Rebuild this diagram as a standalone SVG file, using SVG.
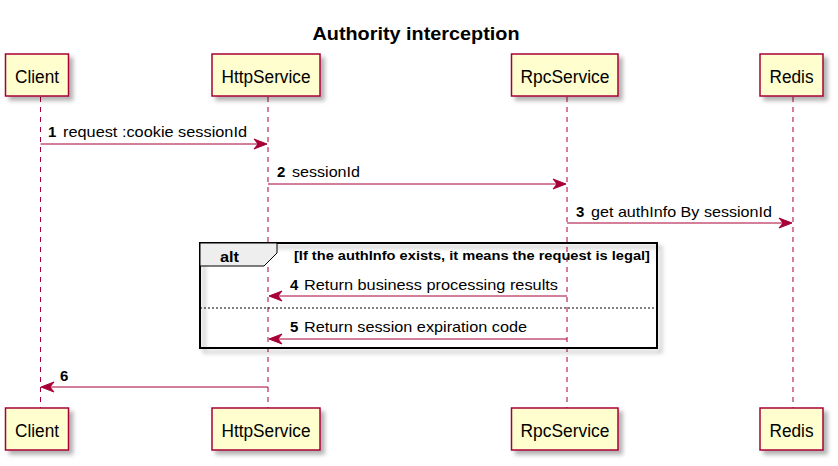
<svg xmlns="http://www.w3.org/2000/svg" width="838" height="466" viewBox="0 0 838 466">
<defs>
<filter id="sh" x="-20%" y="-20%" width="150%" height="160%">
<feDropShadow dx="4" dy="4" stdDeviation="2" flood-color="#000" flood-opacity="0.3"/>
</filter>
<style>
.p{fill:#FEFECE;stroke:#A80036;stroke-width:1.5;filter:url(#sh)}
.pt{font-family:"Liberation Sans",Arial,sans-serif;font-size:18px;fill:#000;text-anchor:middle}
.ll{stroke:#A80036;stroke-width:1;stroke-dasharray:5,5;fill:none}
.m{stroke:#A80036;stroke-width:1;fill:none}
.ah{fill:#A80036;stroke:#A80036;stroke-width:1}
.t{font-family:"Liberation Sans",Arial,sans-serif;font-size:15px;fill:#000}
.n{font-family:"Liberation Sans",Arial,sans-serif;font-size:15px;font-weight:bold;fill:#000}
</style>
</defs>
<rect width="838" height="466" fill="#fff"/>
<text x="416" y="40" font-family="Liberation Sans,Arial,sans-serif" font-size="19" font-weight="bold" text-anchor="middle" textLength="207" lengthAdjust="spacingAndGlyphs">Authority interception</text>
<g id="lifelines">
<line class="ll" x1="40.5" y1="97" x2="40.5" y2="408"/>
<line class="ll" x1="268" y1="97" x2="268" y2="408"/>
<line class="ll" x1="567" y1="97" x2="567" y2="408"/>
<line class="ll" x1="793" y1="97" x2="793" y2="408"/>
</g>
<g id="alt">
<rect x="200" y="243" width="457" height="105" fill="none" stroke="#000" stroke-width="2" filter="url(#sh)"/>
<rect x="200" y="243" width="457" height="105" fill="none" stroke="#000" stroke-width="2"/>
<polygon points="200,243 277,243 277,253 264,266 200,266" fill="#EEEEEE" stroke="#000" stroke-width="1"/>
<text x="220" y="262" font-family="Liberation Sans,Arial,sans-serif" font-size="14.5" font-weight="bold" textLength="19" lengthAdjust="spacingAndGlyphs">alt</text>
<text x="294" y="260" font-family="Liberation Sans,Arial,sans-serif" font-size="12.5" font-weight="bold" textLength="356" lengthAdjust="spacingAndGlyphs">[If the authInfo exists, it means the request is legal]</text>
<line x1="200" y1="308" x2="657" y2="308" stroke="#000" stroke-width="1" stroke-dasharray="2,2"/>
</g>
<g id="Client">
<rect class="p" x="5.5" y="54" width="63" height="42"/>
<text class="pt" x="37" y="83" textLength="44" lengthAdjust="spacingAndGlyphs">Client</text>
<rect class="p" x="5.5" y="408" width="63" height="42"/>
<text class="pt" x="37" y="437" textLength="44" lengthAdjust="spacingAndGlyphs">Client</text>
</g>
<g id="HttpService">
<rect class="p" x="212" y="54" width="108" height="42"/>
<text class="pt" x="266" y="83" textLength="89" lengthAdjust="spacingAndGlyphs">HttpService</text>
<rect class="p" x="212" y="408" width="108" height="42"/>
<text class="pt" x="266" y="437" textLength="89" lengthAdjust="spacingAndGlyphs">HttpService</text>
</g>
<g id="RpcService">
<rect class="p" x="511.5" y="54" width="106.5" height="42"/>
<text class="pt" x="565" y="83" textLength="89" lengthAdjust="spacingAndGlyphs">RpcService</text>
<rect class="p" x="511.5" y="408" width="106.5" height="42"/>
<text class="pt" x="565" y="437" textLength="89" lengthAdjust="spacingAndGlyphs">RpcService</text>
</g>
<g id="Redis">
<rect class="p" x="760" y="54" width="63" height="42"/>
<text class="pt" x="791.5" y="83" textLength="44" lengthAdjust="spacingAndGlyphs">Redis</text>
<rect class="p" x="760" y="408" width="63" height="42"/>
<text class="pt" x="791.5" y="437" textLength="44" lengthAdjust="spacingAndGlyphs">Redis</text>
</g>
<g id="connectors">
<line class="m" x1="40.5" y1="144" x2="266" y2="144"/>
<polygon class="ah" points="254,139 267,144 254,149 258,144"/>
<text class="n" x="48" y="137">1</text>
<text class="t" x="63" y="137" textLength="184" lengthAdjust="spacingAndGlyphs">request :cookie sessionId</text>

<line class="m" x1="268" y1="184" x2="565" y2="184"/>
<polygon class="ah" points="553,179 566,184 553,189 557,184"/>
<text class="n" x="277" y="177">2</text>
<text class="t" x="292" y="177" textLength="68" lengthAdjust="spacingAndGlyphs">sessionId</text>

<line class="m" x1="567" y1="223" x2="791" y2="223"/>
<polygon class="ah" points="779,218 792,223 779,228 783,223"/>
<text class="n" x="576" y="217">3</text>
<text class="t" x="591" y="217" textLength="181" lengthAdjust="spacingAndGlyphs">get authInfo By sessionId</text>

<line class="m" x1="567" y1="296" x2="270" y2="296"/>
<polygon class="ah" points="282,291 269,296 282,301 278,296"/>
<text class="n" x="290" y="290">4</text>
<text class="t" x="304" y="290" textLength="254" lengthAdjust="spacingAndGlyphs">Return business processing results</text>

<line class="m" x1="567" y1="339" x2="270" y2="339"/>
<polygon class="ah" points="282,334 269,339 282,344 278,339"/>
<text class="n" x="290" y="332">5</text>
<text class="t" x="304" y="332" textLength="223" lengthAdjust="spacingAndGlyphs">Return session expiration code</text>

<line class="m" x1="268" y1="387" x2="42" y2="387"/>
<polygon class="ah" points="54,382 41,387 54,392 50,387"/>
<text class="n" x="60" y="381">6</text>
</g>
</svg>
